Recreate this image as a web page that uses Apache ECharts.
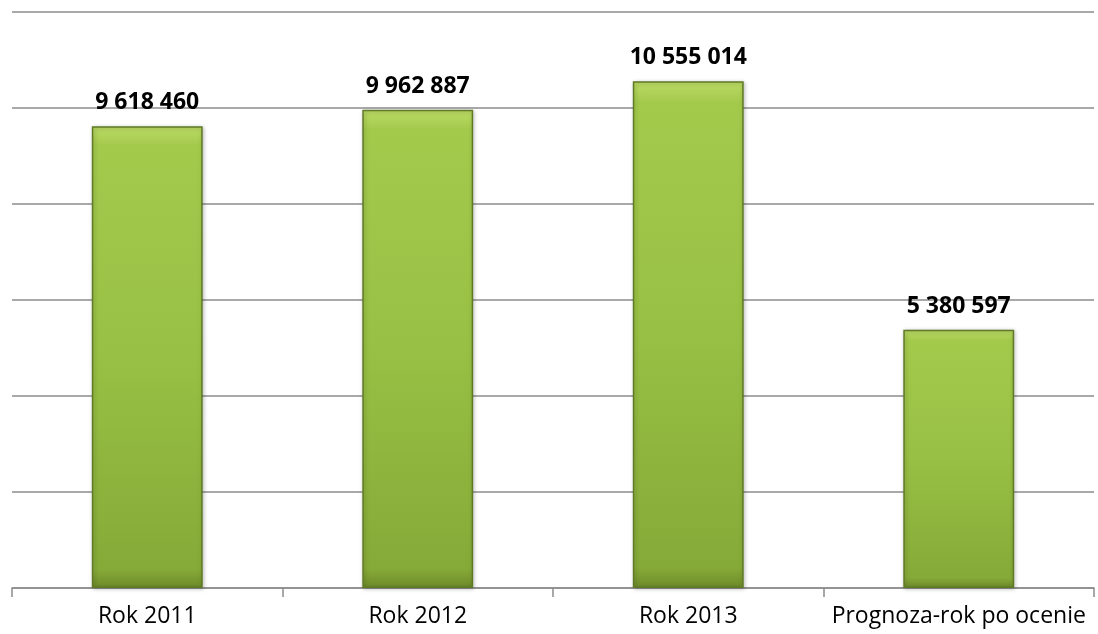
<!DOCTYPE html>
<html>
<head>
<meta charset="utf-8">
<script src="https://cdn.jsdelivr.net/npm/echarts@6/dist/echarts.min.js"></script>
<style>
  html, body { margin: 0; padding: 0; background: #fff; }
  #chart { width: 1098px; height: 634px; }
</style>
</head>
<body>
<div id="chart"></div>
<script>
// dane z wykresu
const categories = ['Rok 2011', 'Rok 2012', 'Rok 2013', 'Prognoza-rok po ocenie']
const values = [9618460, 9962887, 10555014, 5380597]

function fmt(v) {
  return String(v).replace(/\B(?=(\d{3})+(?!\d))/g, ' ')
}

const chart = echarts.init(document.getElementById('chart'))
chart.setOption({
  animation: false,
  grid: { left: 12, right: 4, top: 12, bottom: 46 },
  xAxis: {
    type: 'category',
    data: categories,
    axisLine: { show: true, lineStyle: { color: '#8c8c8c', width: 1.5 } },
    axisTick: { show: true, interval: 0, length: 9, lineStyle: { color: '#8c8c8c', width: 1.5 } },
    axisLabel: {
      interval: 0,
      hideOverlap: false,
      color: '#000',
      fontSize: 23,
      fontFamily: 'Open Sans, Liberation Sans, sans-serif',
      margin: 17
    }
  },
  yAxis: {
    type: 'value',
    min: 0,
    max: 12000000,
    interval: 2000000,
    axisLine: { show: false },
    axisTick: { show: false },
    axisLabel: { show: false },
    splitLine: { lineStyle: { color: '#8c8c8c', width: 1.5 } }
  },
  series: [
    {
      type: 'bar',
      data: values,
      barWidth: '41%',
      itemStyle: {
        color: new echarts.graphic.LinearGradient(0, 0, 0, 1, [
          { offset: 0, color: '#bcdb66' },
          { offset: 0.04, color: '#a4ca4c' },
          { offset: 0.5, color: '#98c044' },
          { offset: 0.96, color: '#86aa38' },
          { offset: 1, color: '#6d8a2a' }
        ]),
        borderColor: '#5f7a24',
        borderWidth: 1.5,
        shadowColor: 'rgba(0,0,0,0.25)',
        shadowBlur: 4,
        shadowOffsetX: 1,
        shadowOffsetY: 1
      },
      label: {
        show: true,
        position: 'top',
        distance: 12,
        color: '#000',
        fontSize: 23,
        fontWeight: 'bold',
        fontFamily: 'Open Sans, Liberation Sans, sans-serif',
        formatter: p => fmt(p.value)
      }
    }
  ]
})
</script>
</body>
</html>
